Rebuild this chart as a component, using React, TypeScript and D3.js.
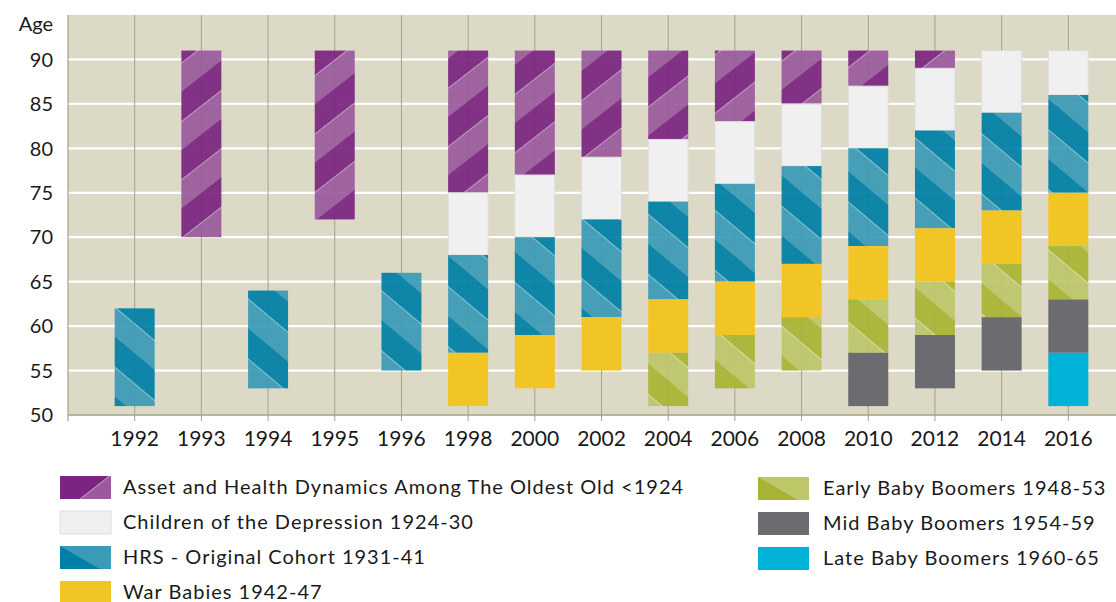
import React from "react";
import * as d3 from "d3";

const years = ["1992","1993","1994","1995","1996","1998","2000","2002","2004","2006","2008","2010","2012","2014","2016"];
const yTicks = [50, 55, 60, 65, 70, 75, 80, 85, 90];

const _ = null;
const aheadLow  = [_, 70, _, 72, _, 75, 77, 79, 81, 83, 85, 87, 89, _, _];
const aheadHigh = [_, 91, _, 91, _, 91, 91, 91, 91, 91, 91, 91, 91, _, _];
const codaLow   = [_, _, _, _, _, 68, 70, 72, 74, 76, 78, 80, 82, 84, 86];
const codaHigh  = [_, _, _, _, _, 75, 77, 79, 81, 83, 85, 87, 89, 91, 91];
const hrsLow    = [51, _, 53, _, 55, 57, 59, 61, 63, 65, 67, 69, 71, 73, 75];
const hrsHigh   = [62, _, 64, _, 66, 68, 70, 72, 74, 76, 78, 80, 82, 84, 86];
const wbLow     = [_, _, _, _, _, 51, 53, 55, 57, 59, 61, 63, 65, 67, 69];
const wbHigh    = [_, _, _, _, _, 57, 59, 61, 63, 65, 67, 69, 71, 73, 75];
const ebbLow    = [_, _, _, _, _, _, _, _, 51, 53, 55, 57, 59, 61, 63];
const ebbHigh   = [_, _, _, _, _, _, _, _, 57, 59, 61, 63, 65, 67, 69];
const mbbLow    = [_, _, _, _, _, _, _, _, _, _, _, 51, 53, 55, 57];
const mbbHigh   = [_, _, _, _, _, _, _, _, _, _, _, 57, 59, 61, 63];
const lbbLow    = [_, _, _, _, _, _, _, _, _, _, _, _, _, _, 51];
const lbbHigh   = [_, _, _, _, _, _, _, _, _, _, _, _, _, _, 57];

const cohorts = [
  { key: "ahead", name: "Asset and Health Dynamics Among The Oldest Old <1924", low: aheadLow, high: aheadHigh, fill: "url(#pPurple)", swatch: "url(#pPurpleL)", opacity: 0.93 },
  { key: "coda", name: "Children of the Depression 1924-30", low: codaLow, high: codaHigh, fill: "#f0f0f0", swatch: "#f0f0f0", opacity: 1 },
  { key: "hrs", name: "HRS - Original Cohort 1931-41", low: hrsLow, high: hrsHigh, fill: "url(#pTeal)", swatch: "url(#pTealL)", opacity: 0.93 },
  { key: "wb", name: "War Babies 1942-47", low: wbLow, high: wbHigh, fill: "#f2c526", swatch: "#f2c526", opacity: 1 },
  { key: "ebb", name: "Early Baby Boomers 1948-53", low: ebbLow, high: ebbHigh, fill: "url(#pGreen)", swatch: "url(#pGreenL)", opacity: 0.93 },
  { key: "mbb", name: "Mid Baby Boomers 1954-59", low: mbbLow, high: mbbHigh, fill: "#6b6b70", swatch: "#6b6b70", opacity: 1 },
  { key: "lbb", name: "Late Baby Boomers 1960-65", low: lbbLow, high: lbbHigh, fill: "#00b2d5", swatch: "#00b2d5", opacity: 1 },
];

const W = 1116, H = 602;
const plotLeft = 68, plotRight = 1135, plotTop = 15, plotBottom = 415;
const FONT = "Lato, 'Open Sans', sans-serif";

function Stripe({ id, dark, light, angle, period }: { id: string; dark: string; light: string; angle: number; period: number }) {
  return (
    <pattern id={id} patternUnits="userSpaceOnUse" width={10} height={period} patternTransform={`rotate(${angle})`}>
      <rect x={0} y={0} width={10} height={period / 2} fill={dark} />
      <rect x={0} y={period / 2} width={10} height={period / 2} fill={light} />
      <rect x={0} y={period / 2} width={10} height={0.7} fill="#ffffff" opacity={0.55} />
    </pattern>
  );
}

export default function App() {
  const x = d3.scalePoint<string>().domain(years).range([plotLeft, plotRight]).padding(1);
  const y = d3.scaleLinear().domain([50, 95]).range([plotBottom, plotTop]);
  const bw = 40;

  const legendLeft = cohorts.slice(0, 4);
  const legendRight = cohorts.slice(4);

  return (
    <svg width={W} height={H} style={{ position: "absolute", left: 0, top: 0 }} fontFamily={FONT}>
      <defs>
        <Stripe id="pPurple" dark="#7b2580" light="#9a5a9d" angle={-38} period={46} />
        <Stripe id="pTeal" dark="#0080a6" light="#3b9bb6" angle={40} period={46} />
        <Stripe id="pGreen" dark="#a9b333" light="#bec66a" angle={40} period={46} />
        <Stripe id="pPurpleL" dark="#7b2580" light="#9a5a9d" angle={-38} period={60} />
        <Stripe id="pTealL" dark="#0080a6" light="#3b9bb6" angle={30} period={60} />
        <Stripe id="pGreenL" dark="#a9b333" light="#bec66a" angle={30} period={60} />
      </defs>
      <rect x={0} y={0} width={W} height={H} fill="#ffffff" />
      <rect x={plotLeft} y={plotTop} width={W - plotLeft} height={plotBottom - plotTop} fill="#dcdac7" />
      {yTicks.filter((t) => t > 50).map((t) => (
        <line key={t} x1={plotLeft} x2={W} y1={y(t)} y2={y(t)} stroke="#ffffff" strokeWidth={2.2} />
      ))}
      {years.map((yr) => (
        <line key={yr} x1={x(yr)} x2={x(yr)} y1={plotTop} y2={plotBottom + 6} stroke="#a3a385" strokeWidth={1} />
      ))}
      <line x1={plotLeft} x2={plotLeft} y1={plotTop} y2={plotBottom + 6} stroke="#a3a385" strokeWidth={1.2} />
      <line x1={plotLeft} x2={W} y1={plotBottom} y2={plotBottom} stroke="#a3a385" strokeWidth={1.5} />

      {cohorts.map((c) => (
        <g key={c.key}>
          {years.map((yr, i) => {
            const lo = c.low[i];
            const hi = c.high[i];
            if (lo == null || hi == null) return null;
            const top = y(hi);
            const h = y(lo) - y(hi);
            return (
              <rect key={yr} x={(x(yr) as number) - bw / 2} y={top} width={bw} height={h} fill={c.fill} opacity={c.opacity}
                stroke={c.key === "coda" ? "#dcdcdc" : "none"} strokeWidth={c.key === "coda" ? 1 : 0} />
            );
          })}
        </g>
      ))}

      {yTicks.map((t) => (
        <text key={t} x={53} y={y(t)} dy="0.36em" textAnchor="end" fontSize={20} fill="#1a1a1a">{t}</text>
      ))}
      <text x={53} y={24} dy="0.36em" textAnchor="end" fontSize={20} fill="#1a1a1a">Age</text>
      {years.map((yr) => (
        <text key={yr} x={x(yr)} y={446} textAnchor="middle" fontSize={21} fill="#1a1a1a">{yr}</text>
      ))}

      {legendLeft.map((c, i) => (
        <g key={c.key} transform={`translate(60, ${476 + i * 35})`}>
          <rect x={0} y={0} width={51} height={23} fill={c.swatch} stroke={c.key === "coda" ? "#dedede" : "none"} />
          <text x={63} y={11} dy="0.36em" fontSize={20} letterSpacing={1} fill="#1a1a1a">{c.name}</text>
        </g>
      ))}
      {legendRight.map((c, i) => (
        <g key={c.key} transform={`translate(758, ${477 + i * 35})`}>
          <rect x={0} y={0} width={51} height={23} fill={c.swatch} />
          <text x={65} y={11} dy="0.36em" fontSize={20} letterSpacing={1} fill="#1a1a1a">{c.name}</text>
        </g>
      ))}
    </svg>
  );
}
